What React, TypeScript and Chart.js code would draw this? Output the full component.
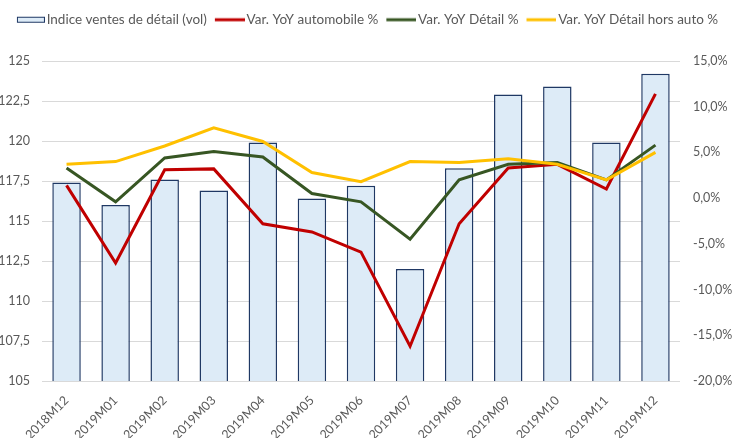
import React, { useEffect, useRef } from 'react';
import { Chart, registerables } from 'chart.js';

Chart.register(...registerables);

// ---- Data ----
const categories = [
  '2018M12', '2019M01', '2019M02', '2019M03', '2019M04', '2019M05', '2019M06',
  '2019M07', '2019M08', '2019M09', '2019M10', '2019M11', '2019M12',
];
const indexValues = [117.4, 116.0, 117.6, 116.9, 119.9, 116.4, 117.2, 112.0, 118.3, 122.9, 123.4, 119.9, 124.2];
const autoYoY = [1.4, -7.1, 3.1, 3.2, -2.8, -3.7, -5.9, -16.2, -2.8, 3.3, 3.7, 1.0, 11.4];
const retailYoY = [3.3, -0.4, 4.4, 5.1, 4.5, 0.5, -0.4, -4.5, 2.0, 3.7, 3.9, 2.0, 5.8];
const exAutoYoY = [3.7, 4.0, 5.7, 7.7, 6.2, 2.8, 1.8, 4.0, 3.9, 4.3, 3.7, 2.0, 5.0];
const seriesLabels = [
  'Indice ventes de détail (vol)',
  'Var. YoY automobile %',
  'Var. YoY Détail %',
  'Var. YoY Détail hors auto %',
];
const leftAxisMin = 105;
const leftAxisMax = 125;
const leftAxisStep = 2.5;
const rightAxisMin = -20;
const rightAxisMax = 15;
const rightAxisStep = 5;

// ---- Styles ----
const FONT = 'Lato';
const TEXT = '#595959';
const BAR_FILL = '#DDEBF7';
const BAR_BORDER = '#1F3864';
const RED = '#C00000';
const GREEN = '#375623';
const YELLOW = '#FFC000';
const GRID = '#D9D9D9';

const LEG_FONT = 13.5;
const LEG_BOX = 25;
const LEG_IMG_W = 35;

function makeLegendImage(kind: 'bar' | 'line', color: string, border?: string) {
  const c = document.createElement('canvas');
  c.width = LEG_IMG_W;
  c.height = 8;
  const ctx = c.getContext('2d')!;
  if (kind === 'bar') {
    const w = 28;
    const x0 = LEG_IMG_W - w;
    ctx.fillStyle = color;
    ctx.fillRect(x0, 1, w, 6);
    ctx.strokeStyle = border || color;
    ctx.lineWidth = 1;
    ctx.strokeRect(x0 + 0.5, 1.5, w - 1, 5);
  } else {
    const w = 30;
    const x0 = LEG_IMG_W - w;
    ctx.fillStyle = color;
    ctx.fillRect(x0, 2.5, w, 3);
  }
  return c;
}

const legendHeightPlugin = {
  id: 'legendHeight',
  beforeLayout(chart: any) {
    const lg = chart.legend;
    if (lg && !lg.__patched) {
      const orig = lg.fit.bind(lg);
      lg.fit = function () {
        orig();
        this.height = 56;
      };
      lg.__patched = true;
    }
  },
};

export default function App() {
  const ref = useRef<HTMLCanvasElement | null>(null);

  useEffect(() => {
    if (!ref.current) return;
    const imgs = [
      makeLegendImage('bar', BAR_FILL, BAR_BORDER),
      makeLegendImage('line', RED),
      makeLegendImage('line', GREEN),
      makeLegendImage('line', YELLOW),
    ];
    const chart = new Chart(ref.current, {
      type: 'bar',
      data: {
        labels: categories,
        datasets: [
          {
            type: 'bar',
            label: seriesLabels[0],
            data: indexValues,
            backgroundColor: BAR_FILL,
            borderColor: BAR_BORDER,
            borderWidth: 1.5,
            yAxisID: 'y',
            order: 10,
            categoryPercentage: 1,
            barPercentage: 0.58,
          },
          {
            type: 'line',
            label: seriesLabels[1],
            data: autoYoY,
            borderColor: RED,
            backgroundColor: RED,
            borderWidth: 3,
            pointRadius: 0,
            yAxisID: 'y2',
            order: 3,
          },
          {
            type: 'line',
            label: seriesLabels[2],
            data: retailYoY,
            borderColor: GREEN,
            backgroundColor: GREEN,
            borderWidth: 3,
            pointRadius: 0,
            yAxisID: 'y2',
            order: 2,
          },
          {
            type: 'line',
            label: seriesLabels[3],
            data: exAutoYoY,
            borderColor: YELLOW,
            backgroundColor: YELLOW,
            borderWidth: 3,
            pointRadius: 0,
            yAxisID: 'y2',
            order: 1,
          },
        ] as any,
      },
      options: {
        responsive: false,
        animation: false,
        layout: { padding: { top: 5, left: 0, right: 0, bottom: 0 } },
        plugins: {
          tooltip: { enabled: false },
          legend: {
            position: 'top',
            labels: {
              usePointStyle: true,
              pointStyleWidth: LEG_BOX,
              padding: 8,
              color: TEXT,
              font: { family: FONT, size: LEG_FONT },
              sort: (a: any, b: any) => a.datasetIndex - b.datasetIndex,
              generateLabels: (chart: any) => {
                const items = Chart.defaults.plugins.legend.labels.generateLabels(chart);
                items.forEach((it: any) => {
                  it.pointStyle = imgs[it.datasetIndex];
                });
                return items;
              },
            },
          },
        },
        scales: {
          x: {
            offset: true,
            grid: { display: false },
            border: { display: false },
            ticks: {
              color: TEXT,
              font: { family: FONT, size: 12.5 },
              minRotation: 45,
              maxRotation: 45,
              autoSkip: false,
              padding: 4,
            },
            afterFit: (s: any) => {
              s.height = 57;
            },
          },
          y: {
            position: 'left',
            min: leftAxisMin,
            max: leftAxisMax,
            border: { display: false },
            grid: { color: GRID, lineWidth: 1, drawTicks: false },
            ticks: {
              stepSize: leftAxisStep,
              color: TEXT,
              font: { family: FONT, size: 12.5 },
              padding: 12,
              callback: (v: any) => String(v).replace('.', ','),
            },
            afterFit: (s: any) => {
              s.width = 42;
            },
          },
          y2: {
            position: 'right',
            min: rightAxisMin,
            max: rightAxisMax,
            border: { display: false },
            grid: { display: false, drawTicks: false },
            ticks: {
              stepSize: rightAxisStep,
              color: TEXT,
              font: { family: FONT, size: 12.5 },
              padding: 13,
              callback: (v: any) => Number(v).toFixed(1).replace('.', ',') + '%',
            },
            afterFit: (s: any) => {
              s.width = 53;
            },
          },
        },
      } as any,
      plugins: [legendHeightPlugin],
    });
    return () => chart.destroy();
  }, []);

  return (
    <div style={{ position: 'fixed', left: 0, top: 0, width: 733, height: 438, background: '#fff' }}>
      <canvas ref={ref} width={733} height={438} style={{ display: 'block' }} />
    </div>
  );
}
